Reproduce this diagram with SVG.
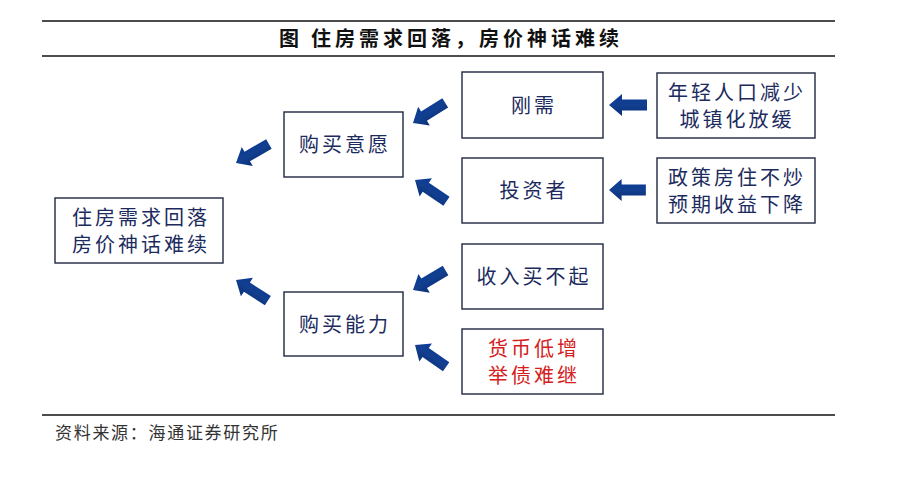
<svg xmlns="http://www.w3.org/2000/svg" width="898" height="478" viewBox="0 0 898 478">
<defs>
<style>
.box{fill:#ffffff;stroke:#1e2740;stroke-width:1.4}
.t{font-family:"Noto Sans CJK SC","Noto Sans CJK TC",sans-serif;font-size:20px;fill:#1c2b5e;text-anchor:middle;letter-spacing:3px}
.red{fill:#d42020}
.title{font-family:"Noto Sans CJK SC",sans-serif;font-size:20px;font-weight:bold;fill:#111;letter-spacing:4px}
.foot{font-family:"Noto Sans CJK SC",sans-serif;font-size:17px;fill:#333;letter-spacing:1.7px}
.rule{stroke:#111;stroke-width:1.4}
</style>
<linearGradient id="ag" x1="0" y1="0" x2="0" y2="1">
<stop offset="0" stop-color="#0b3a96"/>
<stop offset="0.5" stop-color="#123f8f"/>
<stop offset="1" stop-color="#0a2f78"/>
</linearGradient>
<path id="arr" d="M0,0 L13,-11 L13,-5.5 L38,-5.5 L38,5.5 L13,5.5 L13,11 Z" fill="url(#ag)"/>
</defs>
<rect width="898" height="478" fill="#ffffff"/>
<line class="rule" x1="42" y1="21" x2="835" y2="21"/>
<line class="rule" x1="42" y1="56" x2="835" y2="56"/>
<text class="title" x="279" y="46">图</text>
<text class="title" x="311" y="46">住房需求回落，房价神话难续</text>
<line class="rule" x1="42" y1="415" x2="835" y2="415"/>
<text class="foot" x="55" y="439">资料来源：海通证券研究所</text>

<g id="main"><rect class="box" x="55" y="198" width="168" height="65"/>
<text class="t" x="141" y="225">住房需求回落</text><text class="t" x="141" y="252">房价神话难续</text></g>
<g id="yiyuan"><rect class="box" x="284" y="112" width="119" height="65"/>
<text class="t" x="345" y="152">购买意愿</text></g>
<g id="nengli"><rect class="box" x="284" y="292" width="119" height="64"/>
<text class="t" x="345" y="332">购买能力</text></g>
<g id="gangxu"><rect class="box" x="462" y="72" width="141" height="66"/>
<text class="t" x="534" y="113">刚需</text></g>
<g id="touzi"><rect class="box" x="462" y="158" width="141" height="65"/>
<text class="t" x="534" y="198">投资者</text></g>
<g id="shouru"><rect class="box" x="462" y="244" width="141" height="65"/>
<text class="t" x="534" y="284">收入买不起</text></g>
<g id="huobi"><rect class="box" x="462" y="329" width="141" height="65"/>
<text class="t red" x="534" y="356">货币低增</text><text class="t red" x="534" y="383">举债难继</text></g>
<g id="nianqing"><rect class="box" x="657" y="73" width="158" height="65"/>
<text class="t" x="737" y="100">年轻人口减少</text><text class="t" x="737" y="127">城镇化放缓</text></g>
<g id="zhengce"><rect class="box" x="657" y="158" width="158" height="65"/>
<text class="t" x="737" y="185">政策房住不炒</text><text class="t" x="737" y="212">预期收益下降</text></g>

<g id="connectors">
<use href="#arr" transform="translate(609,105)"/>
<use href="#arr" transform="translate(609,190) scale(0.97,1)"/>
<use href="#arr" transform="translate(413,123) rotate(-32)"/>
<use href="#arr" transform="translate(415,180) rotate(34)"/>
<use href="#arr" transform="translate(413,290) rotate(-31)"/>
<use href="#arr" transform="translate(415,345) rotate(35)"/>
<use href="#arr" transform="translate(236,163) rotate(-30)"/>
<use href="#arr" transform="translate(236,280) rotate(33)"/>
</g>
</svg>
